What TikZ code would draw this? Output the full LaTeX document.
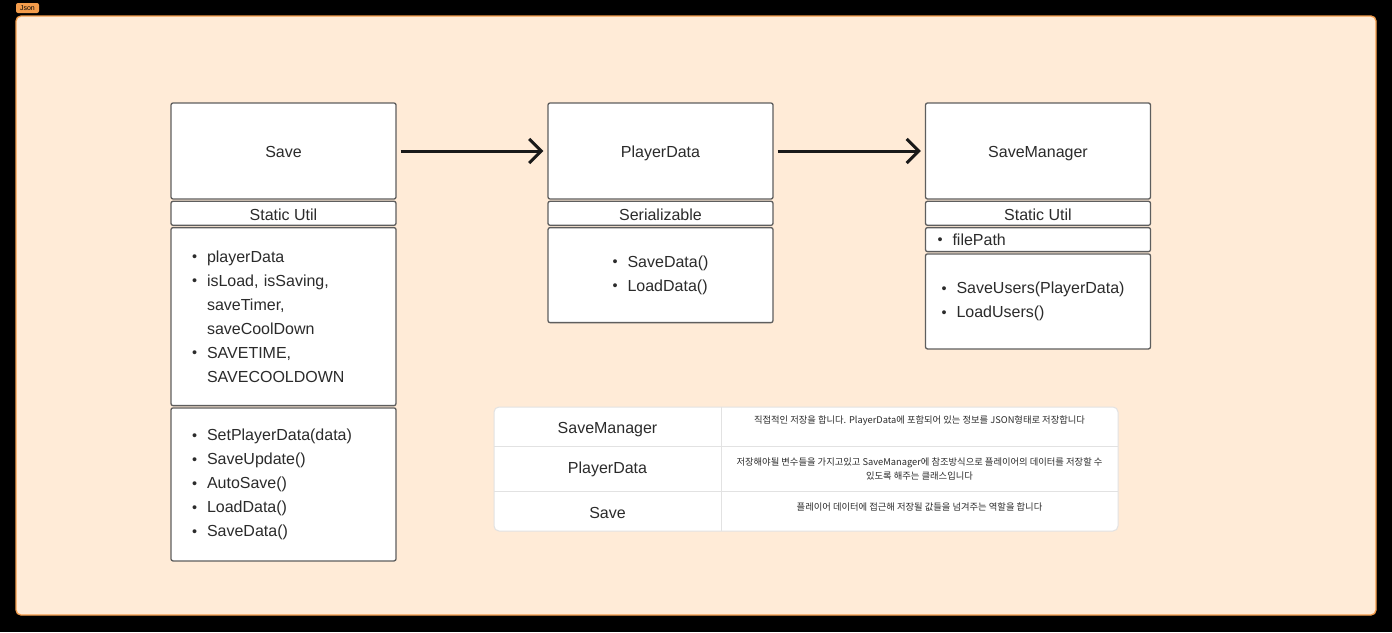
\documentclass[tikz,border=0pt]{standalone}
\usepackage{fontspec}
\setmainfont{Liberation Sans}
\newfontfamily\krfont{Noto Sans CJK KR}
\usetikzlibrary{arrows.meta}
\usetikzlibrary{positioning}
\definecolor{peach}{HTML}{FFEBD7}
\definecolor{frameorange}{HTML}{F39C4B}
\definecolor{boxgray}{HTML}{5E5E5E}
\definecolor{tablegray}{HTML}{E2E2E2}
\definecolor{inkgray}{HTML}{2B2B2B}
\newcommand{\itm}{\makebox[15pt][l]{\raisebox{0.5pt}{\scalebox{0.9}{\textbullet}}}}
\newcommand{\cont}{\hspace*{15pt}}

\begin{document}
\begin{tikzpicture}[x=1pt,y=-1pt,>={Straight Barb[length=12pt,width=24pt]},
	every node/.style={font=\fontsize{16}{24}\selectfont,text=inkgray},
	boxbase/.style={draw=boxgray,fill=white,line width=1.3pt,rounded corners=2pt,minimum width=225pt,inner sep=0pt},
	head/.style={boxbase,minimum height=96pt,text height=14.5pt,text depth=1pt},
	band/.style={head,minimum height=24pt},
	members/.style={boxbase,align=left},
	flow/.style={->,line width=3pt,draw=black!90,shorten <=4pt,shorten >=4pt},
	tag/.style={fill=frameorange,rounded corners=2pt,minimum width=23pt,minimum height=10pt,inner sep=0pt,font=\fontsize{7}{8}\selectfont,text=black},
	tableline/.style={draw=tablegray,line width=1pt},
	cell/.style={text height=14.5pt,text depth=1pt,inner sep=0pt},
	desc/.style={font=\krfont\fontsize{9.3}{14}\selectfont,align=center,inner sep=0pt}]
	\useasboundingbox (0,0) rectangle (1392,632);
	\fill[black] (0,0) rectangle (1392,632);
	\draw[frameorange,fill=peach,line width=1.3pt,rounded corners=5pt] (16,16) rectangle (1376,615);
	\node[tag] (jsontag) at (27.5,8) {Json};

	% Save
	\node[head] (save) at (283.5,151) {Save};
	\node[band] (savestat) [below=1pt of save] {Static Util};
	\node[members,minimum height=178pt,text width=183pt,inner xsep=21pt] (savevars) [below=1pt of savestat]
		{\itm playerData\\ \itm isLoad, isSaving,\\ \cont saveTimer,\\ \cont saveCoolDown\\ \itm SAVETIME,\\ \cont SAVECOOLDOWN};
	\node[members,minimum height=153pt,text width=183pt,inner xsep=21pt] (saveops) [below=1pt of savevars]
		{\itm SetPlayerData(data)\\ \itm SaveUpdate()\\ \itm AutoSave()\\ \itm LoadData()\\ \itm SaveData()};

	% PlayerData
	\node[head] (pdata) at (660.5,151) {PlayerData};
	\node[band] (pdataser) [below=1pt of pdata] {Serializable};
	\node[members,minimum height=95pt] (pdataops) [below=1pt of pdataser]
		{\itm SaveData()\\ \itm LoadData()};

	% SaveManager
	\node[head] (smgr) at (1038,151) {SaveManager};
	\node[band] (smgrstat) [below=1pt of smgr] {Static Util};
	\node[members,minimum height=24pt,text width=201pt,inner xsep=12pt] (smgrvars) [below=1pt of smgrstat]
		{\itm filePath};
	\node[members,minimum height=95pt,text width=193pt,inner xsep=16pt] (smgrops) [below=1pt of smgrvars]
		{\itm SaveUsers(PlayerData)\\ \itm LoadUsers()};

	\path[flow] (save) edge (pdata)
		(pdata) edge (smgr);

	% table
	\draw[tableline,fill=white,rounded corners=5pt] (494,407) rectangle (1118,531);
	\draw[tableline] (721,407) -- (721,531)
		(494,446) -- (1118,446)
		(494,491) -- (1118,491);
	\node[cell] (rowmgr) at (607.5,426.5) {SaveManager};
	\node[cell] (rowpdata) at (607.5,467) {PlayerData};
	\node[cell] (rowsave) at (607.5,512) {Save};
	\node[desc] (descmgr) at (919.5,421) {직접적인 저장을 합니다. PlayerData에 포함되어 있는 정보를 JSON형태로 저장합니다};
	\node[desc] (descpdata) at (919.5,469) {저장해야될 변수들을 가지고있고 SaveManager에 참조방식으로 플레이어의 데이터를 저장할 수\\ 있도록 해주는 클래스입니다};
	\node[desc] (descsave) at (919.5,507) {플레이어 데이터에 접근해 저장될 값들을 넘겨주는 역할을 합니다};
\end{tikzpicture}
\end{document}
